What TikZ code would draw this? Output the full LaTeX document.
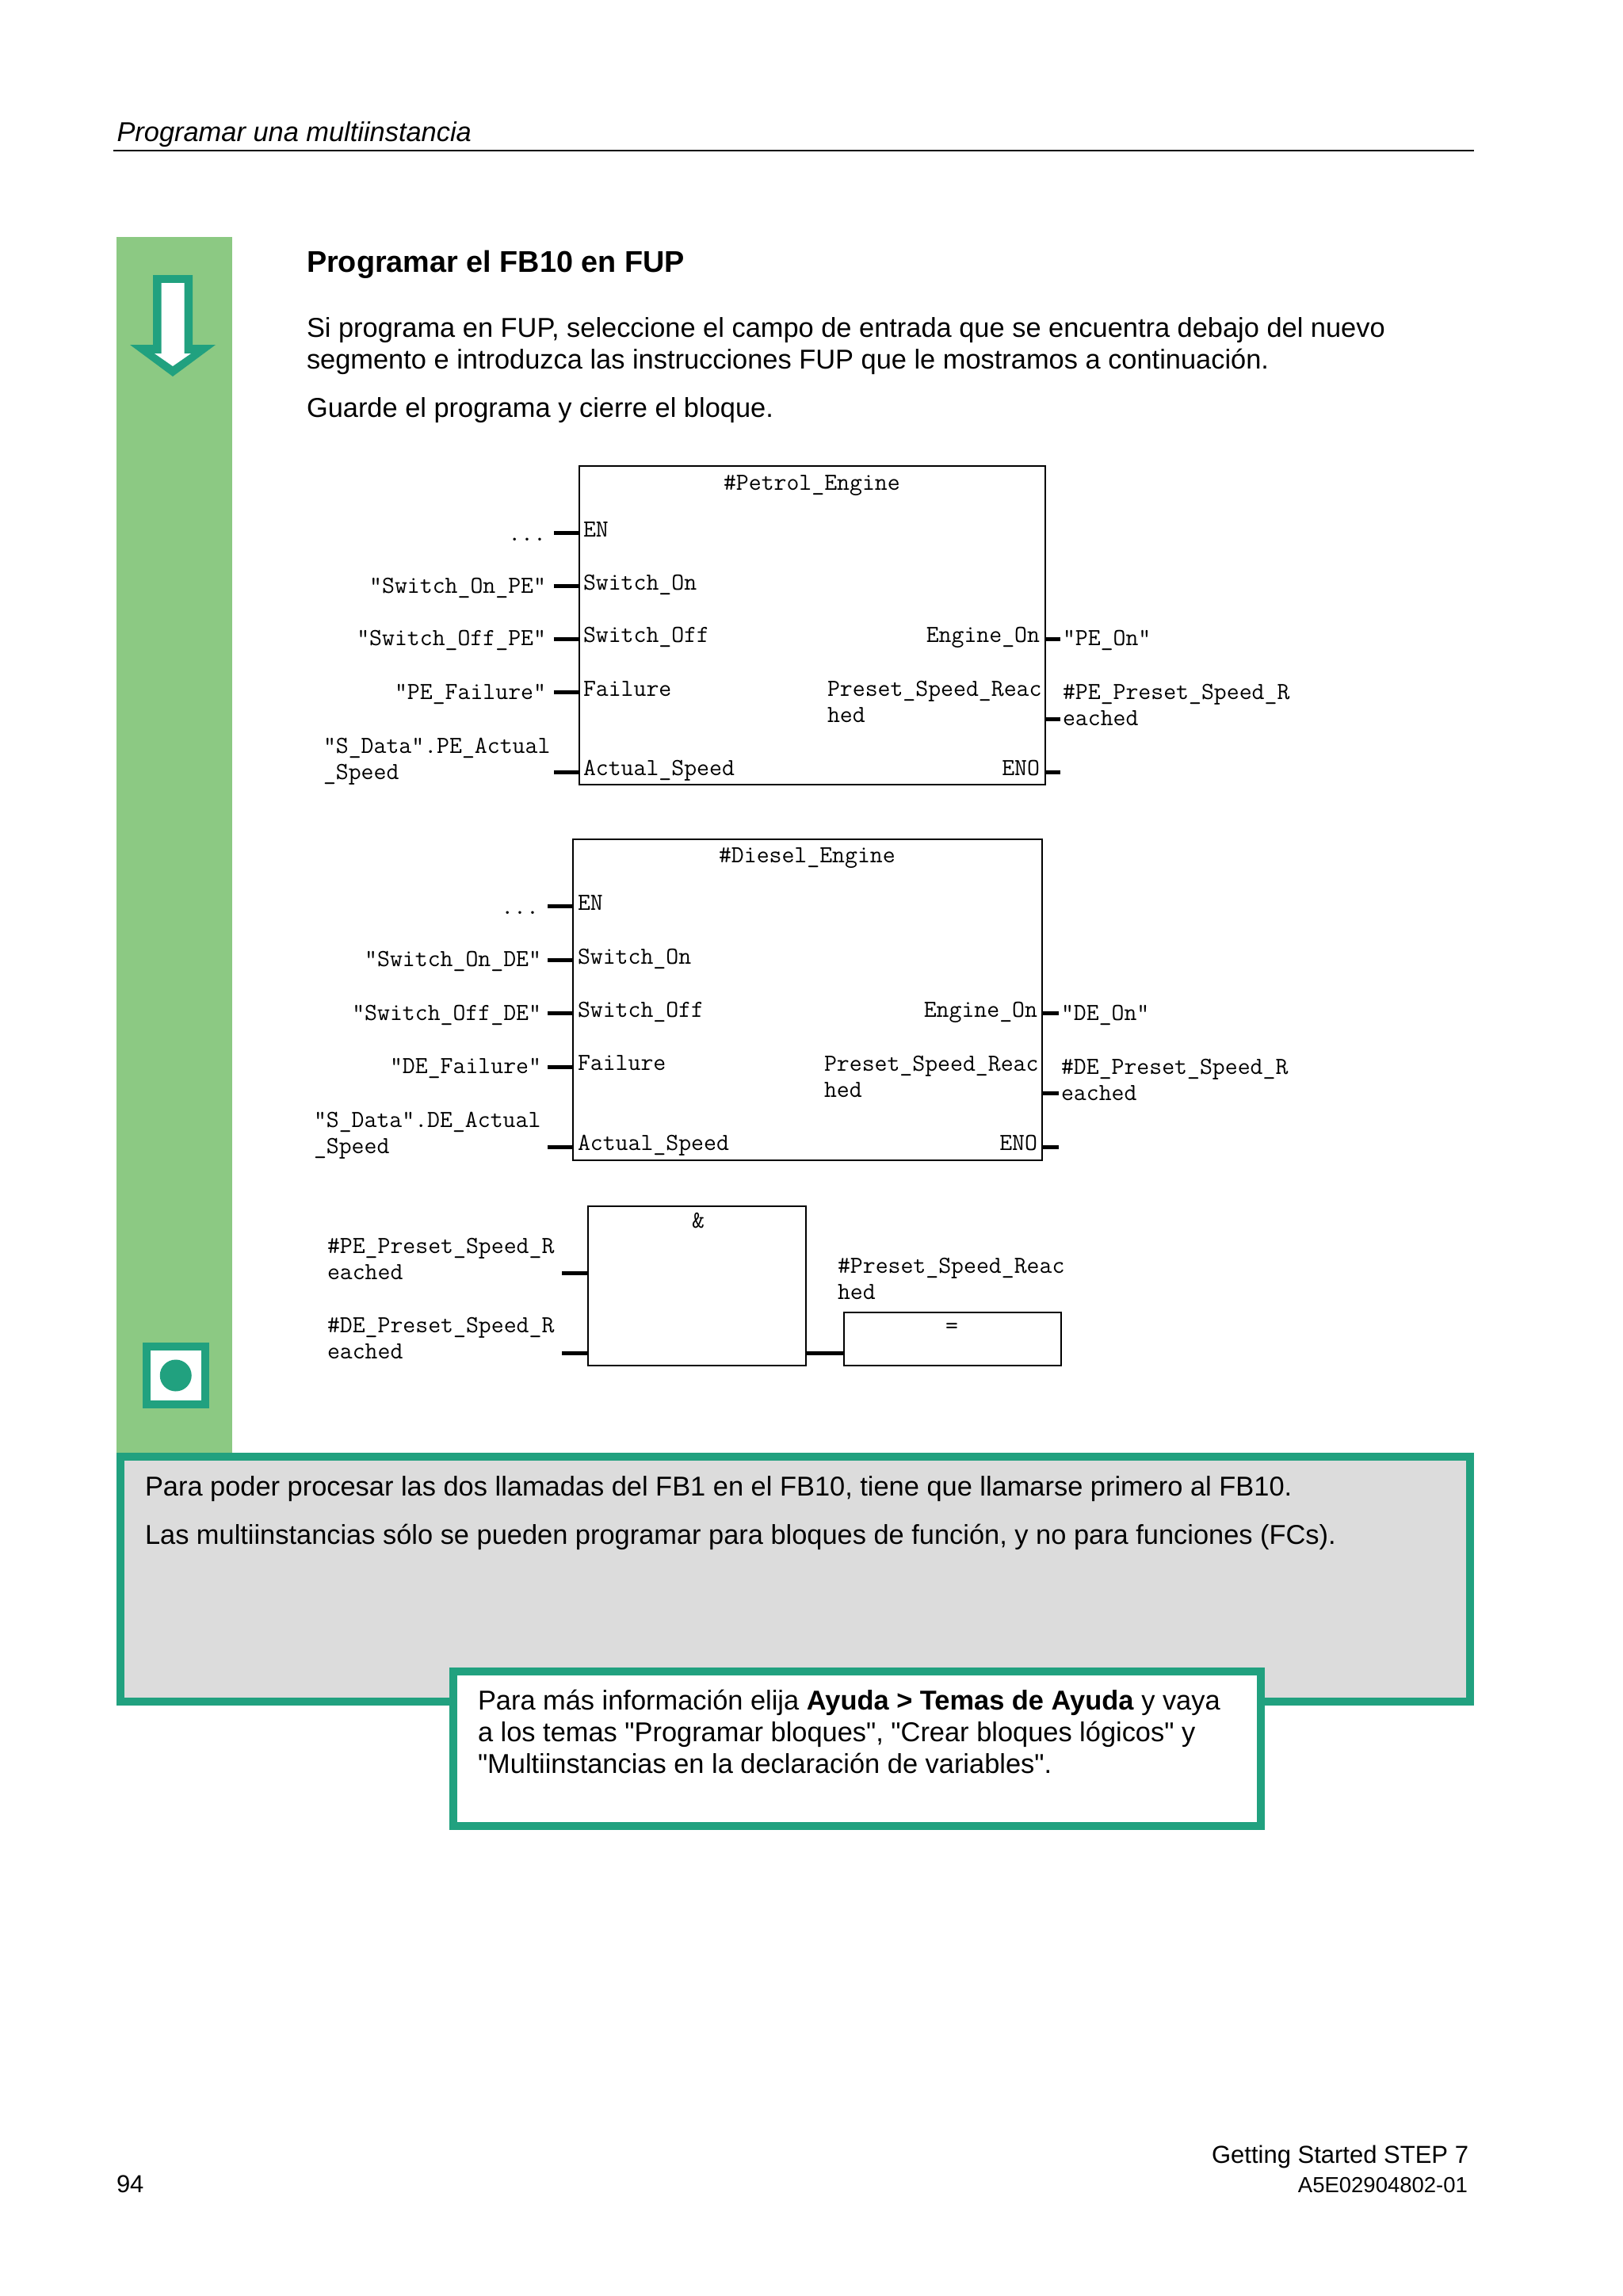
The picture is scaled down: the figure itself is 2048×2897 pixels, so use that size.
\documentclass[tikz,border=0pt]{standalone}
\usepackage{fontspec}
\setmainfont{Liberation Sans}
\newfontfamily\plainquotes{Liberation Sans}
\usepackage{xcolor}
\usetikzlibrary{positioning, calc}
\definecolor{barGreen}{HTML}{8CC983}
\definecolor{tealLine}{HTML}{21A17F}
\definecolor{noteGrey}{HTML}{DCDCDC}

\begin{document}
\begin{tikzpicture}[
        x=1pt, y=-1pt,
        every node/.style={inner sep=0pt, outer sep=0pt},
        bodytext/.style={anchor=base west, align=left, font=\fontsize{34.4}{40}\selectfont},
        fbtext/.style={anchor=base west, align=left, yshift=-1pt, font=\ttfamily\fontsize{30.9}{33}\selectfont},
        fbright/.style={fbtext, anchor=base east},
        fbbox/.style={rectangle, draw, line width=2pt, anchor=north west},
        pinline/.style={line width=5pt},
        notebox/.style={rectangle, draw=tealLine, line width=10pt}
    ]
        \useasboundingbox (0,0) rectangle (2048,2897);

        % Page header
        \node[bodytext, font=\itshape\fontsize{34.4}{40}\selectfont] (header) at (147.5,178) {Programar una multiinstancia};
        \coordinate (ruleA) at (142.5,190);
        \coordinate (ruleB) at (1860,190);
        \draw[line width=2pt] (ruleA) -- (ruleB);

        % Green bar and its two marks
        \node[rectangle, fill=barGreen, anchor=north west, minimum width=146pt, minimum height=1534pt] (bar) at (147,299) {};
        \fill[tealLine] (193,347) -- (243,347) -- (243,435) -- (272,435) -- (218,475) -- (164,435) -- (193,435) -- cycle;
        \fill[white] (203.5,357) -- (232.5,357) -- (232.5,446) -- (241,446) -- (218,462) -- (195,446) -- (203.5,446) -- cycle;
        \node[rectangle, draw=tealLine, fill=white, line width=10pt, minimum width=73.5pt, minimum height=73pt] (stopmark) at (221.75,1735.5) {};
        \node[circle, fill=tealLine, minimum size=40pt] (stopdot) at (stopmark) {};

        % Text above the blocks
        \node[bodytext, font=\bfseries\fontsize{37.8}{44}\selectfont] (title) at (387,343) {Programar el FB10 en FUP};
        \node[bodytext] (intro) at (387,465) {Si programa en FUP, seleccione el campo de entrada que se encuentra debajo del nuevo\\segmento e introduzca las instrucciones FUP que le mostramos a continuación.};
        \node[bodytext] (saveit) at (387,526) {Guarde el programa y cierre el bloque.};

        % Petrol engine block
        \node[fbbox, minimum width=588pt, minimum height=402pt] (petrol) at (731,588) {};
        \node[fbtext] (petrolName) at (913,617) {\#Petrol\_Engine};
        \node[fbtext] (peEn) at (736,676) {EN};
        \node[fbtext] (peOn) at (736,743) {Switch\_On};
        \node[fbtext] (peOff) at (736,809) {Switch\_Off};
        \node[fbtext] (peFail) at (736,877) {Failure};
        \node[fbtext] (peSpeed) at (736,977) {Actual\_Speed};
        \node[fbright] (peEngine) at (1312,809) {Engine\_On};
        \node[fbtext] (pePreset) at (1044,910) {Preset\_Speed\_Reac\\hed};
        \node[fbright] (peEno) at (1312,977) {ENO};
        \node[fbright] (peDots) at (689,681) {...};
        \node[fbright] (peOnVar) at (689,747) {"Switch\_On\_PE"};
        \node[fbright] (peOffVar) at (689,813) {"Switch\_Off\_PE"};
        \node[fbright] (peFailVar) at (689,881) {"PE\_Failure"};
        \node[fbtext] (peSpeedVar) at (408,982) {"S\_Data".PE\_Actual\\\_Speed};
        \node[fbtext] (peEngineVar) at (1341,813) {"PE\_On"};
        \node[fbtext] (pePresetVar) at (1341,914) {\#PE\_Preset\_Speed\_R\\eached};

        \coordinate (peA) at (699,672);
        \coordinate (peB) at (699,739);
        \coordinate (peC) at (699,806);
        \coordinate (peD) at (699,873);
        \coordinate (peE) at (699,974);
        \coordinate (peF) at (1338,806);
        \coordinate (peG) at (1338,907);
        \coordinate (peH) at (1338,974);
        \draw[pinline] (peA) -- (peA -| petrol.west);
        \draw[pinline] (peB) -- (peB -| petrol.west);
        \draw[pinline] (peC) -- (peC -| petrol.west);
        \draw[pinline] (peD) -- (peD -| petrol.west);
        \draw[pinline] (peE) -- (peE -| petrol.west);
        \draw[pinline] (peF -| petrol.east) -- (peF);
        \draw[pinline] (peG -| petrol.east) -- (peG);
        \draw[pinline] (peH -| petrol.east) -- (peH);

        % Diesel engine block
        \node[fbbox, minimum width=592pt, minimum height=405pt] (diesel) at (723,1059) {};
        \node[fbtext] (dieselName) at (907,1087) {\#Diesel\_Engine};
        \node[fbtext] (deEn) at (729,1147) {EN};
        \node[fbtext] (deOn) at (729,1215) {Switch\_On};
        \node[fbtext] (deOff) at (729,1282) {Switch\_Off};
        \node[fbtext] (deFail) at (729,1349) {Failure};
        \node[fbtext] (deSpeed) at (729,1450) {Actual\_Speed};
        \node[fbright] (deEngine) at (1309,1282) {Engine\_On};
        \node[fbtext] (dePreset) at (1040,1383) {Preset\_Speed\_Reac\\hed};
        \node[fbright] (deEno) at (1309,1450) {ENO};
        \node[fbright] (deDots) at (680,1152) {...};
        \node[fbright] (deOnVar) at (683,1218) {"Switch\_On\_DE"};
        \node[fbright] (deOffVar) at (683,1286) {"Switch\_Off\_DE"};
        \node[fbright] (deFailVar) at (683,1353) {"DE\_Failure"};
        \node[fbtext] (deSpeedVar) at (396,1454) {"S\_Data".DE\_Actual\\\_Speed};
        \node[fbtext] (deEngineVar) at (1339,1286) {"DE\_On"};
        \node[fbtext] (dePresetVar) at (1339,1387) {\#DE\_Preset\_Speed\_R\\eached};

        \coordinate (deA) at (691,1143);
        \coordinate (deB) at (691,1211);
        \coordinate (deC) at (691,1278);
        \coordinate (deD) at (691,1346);
        \coordinate (deE) at (691,1447);
        \coordinate (deF) at (1336,1278);
        \coordinate (deG) at (1336,1379);
        \coordinate (deH) at (1336,1447);
        \draw[pinline] (deA) -- (deA -| diesel.west);
        \draw[pinline] (deB) -- (deB -| diesel.west);
        \draw[pinline] (deC) -- (deC -| diesel.west);
        \draw[pinline] (deD) -- (deD -| diesel.west);
        \draw[pinline] (deE) -- (deE -| diesel.west);
        \draw[pinline] (deF -| diesel.east) -- (deF);
        \draw[pinline] (deG -| diesel.east) -- (deG);
        \draw[pinline] (deH -| diesel.east) -- (deH);

        % AND block and assignment
        \node[fbbox, minimum width=275pt, minimum height=201pt] (andbox) at (742,1522) {};
        \node[fbbox, minimum width=274pt, minimum height=67pt] (assign) at (1065,1656) {};
        \node[fbtext, anchor=base] (andSign) at (881,1548) {\&};
        \node[fbtext, anchor=base] (assignSign) at (1201,1681) {=};
        \node[fbtext] (andPe) at (413,1613) {\#PE\_Preset\_Speed\_R\\eached};
        \node[fbtext] (andDe) at (413,1713) {\#DE\_Preset\_Speed\_R\\eached};
        \node[fbtext] (assignVar) at (1057,1638) {\#Preset\_Speed\_Reac\\hed};
        \coordinate (andA) at (709,1606);
        \coordinate (andB) at (709,1707);
        \draw[pinline] (andA) -- (andA -| andbox.west);
        \draw[pinline] (andB) -- (andB -| andbox.west);
        \draw[pinline] (andB -| andbox.east) -- (andB -| assign.west);

        % Note box with the help box over it
        \node[notebox, fill=noteGrey, minimum width=1703pt, minimum height=309pt] (note) at (1003.5,1992.5) {};
        \node[bodytext] (noteA) at (183,1887) {Para poder procesar las dos llamadas del FB1 en el FB10, tiene que llamarse primero al FB10.};
        \node[bodytext] (noteB) at (183,1948) {Las multiinstancias sólo se pueden programar para bloques de función, y no para funciones (FCs).};
        \node[notebox, fill=white, minimum width=1019pt, minimum height=195pt] (helpbox) at (1081.5,2206.5) {};
        \node[bodytext, font=\plainquotes\fontsize{34.4}{40}\selectfont] (helpText) at (603,2237) {Para más información elija \textbf{Ayuda > Temas de Ayuda} y vaya\\a los temas "Programar bloques", "Crear bloques lógicos" y\\"Multiinstancias en la declaración de variables".};

        % Page footer
        \node[bodytext, font=\fontsize{31}{36}\selectfont] (pageNo) at (147,2766) {94};
        \node[bodytext, anchor=base east, font=\fontsize{31}{36}\selectfont] (guide) at (1853,2729) {Getting Started STEP 7};
        \node[bodytext, anchor=base east, font=\fontsize{27.5}{32}\selectfont] (docNo) at (1852,2766) {A5E02904802-01};
    \end{tikzpicture}
\end{document}
